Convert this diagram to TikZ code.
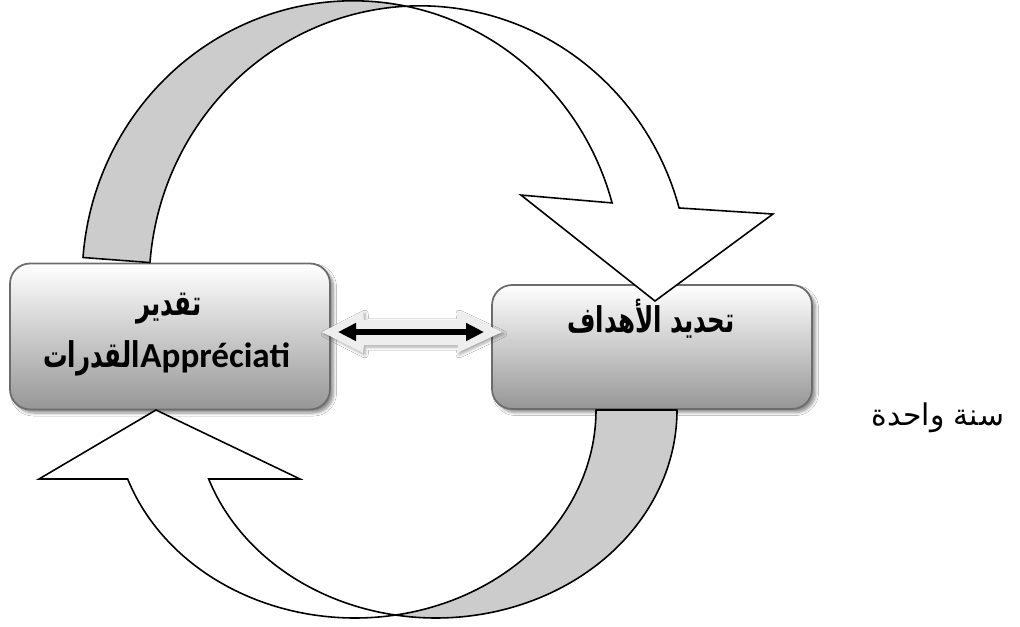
\documentclass[tikz,border=0pt]{standalone}
\usepackage{fontspec}
\TeXXeTstate=1
\newfontfamily\arabicfont[Script=Arabic]{DejaVu Sans}
\newfontfamily\latinbold{Carlito}
\usetikzlibrary{arrows.meta,shadows.blur}

% tall, slightly narrow Arabic lettering
\newcommand{\stretchar}[1]{\scalebox{0.9}[1.3]{#1}}

\definecolor{bandgrey}{HTML}{CCCCCC}
\definecolor{boxedge}{HTML}{6C6C6C}
\definecolor{boxtop}{HTML}{FFFFFF}
\definecolor{boxbottom}{HTML}{969696}
\definecolor{haloarrow}{HTML}{EEEEEE}

\tikzset{
  stagebox/.style={draw=boxedge, line width=1pt, rounded corners=0.4cm,
    top color=boxtop, bottom color=boxbottom, minimum width=6.4cm, inner sep=0pt,
    blur shadow={shadow xshift=0.07cm, shadow yshift=-0.07cm,
      shadow opacity=45, shadow blur steps=6}},
  backband/.style={draw=black, line width=0.9pt, fill=bandgrey, line join=round},
  frontband/.style={draw=black, line width=0.9pt, fill=white, line join=miter},
  halo/.style={fill=haloarrow, blur shadow={shadow xshift=0.04cm, shadow yshift=-0.04cm,
      shadow opacity=35, shadow blur steps=4}},
  pairarrow/.style={{Triangle[length=0.36cm,width=0.34cm]}-{Triangle[length=0.36cm,width=0.34cm]},
      line width=0.11cm, black},
  boxtext/.style={font=\arabicfont\bfseries\fontsize{15.5}{18}\selectfont, inner sep=0pt, anchor=base},
  latintext/.style={font=\latinbold\bfseries\fontsize{20}{24}\selectfont, inner sep=0pt},
  sidetext/.style={font=\arabicfont\fontsize{17}{20}\selectfont, inner sep=0pt, anchor=base},
}

\begin{document}
\begin{tikzpicture}[x=0.02cm, y=-0.02cm]
  \useasboundingbox (0,0) rectangle (1020,626);
  \fill[white] (0,0) rectangle (1020,626);

  % the two stage boxes
  \node[stagebox, minimum height=2.92cm] (lbox) at (170,336.5) {};
  \node[stagebox, minimum height=2.48cm] (rbox) at (652,347) {};

  % double arrow between the boxes, on a light raised backing
  \coordinate (hl) at (322,332);
  \coordinate (hr) at (502,332);
  \fill[halo] (hl) -- (363,311) -- (364,320) -- (458,320) -- (457,311) -- (hr)
     -- (457,353) -- (458,345) -- (364,345) -- (363,353) -- cycle;
  \coordinate (dl) at (338,332);
  \coordinate (dr) at (484,332);
  \draw[pairarrow] (dl) -- (dr);

  % upper curved arrow (tilted): back side grey, front side white with head
  \begin{scope}[rotate around={-4.3:(430,250)}]
    \filldraw[backband]
      plot[domain=-180:-82.85, samples=90, variable=\t]
        ({354.3+269.8*cos(\t)},{283.5+277*sin(\t)})
      -- plot[domain=-97.15:-180, samples=90, variable=\t]
        ({421.5+269.8*cos(\t)},{283.5+277*sin(\t)})
      -- cycle;
    \filldraw[frontband]
      plot[domain=-97.15:-19.86, samples=90, variable=\t]
        ({421.5+269.8*cos(\t)},{283.5+277*sin(\t)})
      -- (769.3,188.4) coordinate (topwingR)
      -- (658.2,284) coordinate (toptip)
      -- (516.6,188.4) coordinate (topwingL)
      -- plot[domain=-19.86:-82.85, samples=90, variable=\t]
        ({354.3+269.8*cos(\t)},{283.5+277*sin(\t)})
      -- cycle;
  \end{scope}

  % lower curved arrow: back side grey under the right box, head at the left box
  \filldraw[backband]
    plot[domain=80.33:0, samples=90, variable=\t]
      ({355+241*cos(\t)},{410+208*sin(\t)})
    -- plot[domain=0:99.67, samples=90, variable=\t]
      ({436+241*cos(\t)},{410+208*sin(\t)})
    -- cycle;
  \filldraw[frontband]
    plot[domain=80.33:160.63, samples=90, variable=\t]
      ({355+241*cos(\t)},{410+208*sin(\t)})
    -- (39,479) coordinate (botwingL)
    -- (156,410) coordinate (bottip)
    -- (300,479) coordinate (botwingR)
    -- plot[domain=160.63:99.67, samples=90, variable=\t]
      ({436+241*cos(\t)},{410+208*sin(\t)})
    -- cycle;

  % labels
  \node[boxtext] (l1) at (169,315) {\stretchar{\beginR تقدير\endR}};
  \node[latintext, anchor=base west] (l2a) at (140,367) {Appréciati};
  \node[boxtext, anchor=base east] (l2b) at (l2a.base west) {\stretchar{\beginR القدرات\endR}};
  \node[boxtext] (r1) at (651,332) {\stretchar{\beginR تحديد الأهداف\endR}};
  \node[sidetext] (yr) at (938,425) {\beginR سنة واحدة\endR};
\end{tikzpicture}
\end{document}
